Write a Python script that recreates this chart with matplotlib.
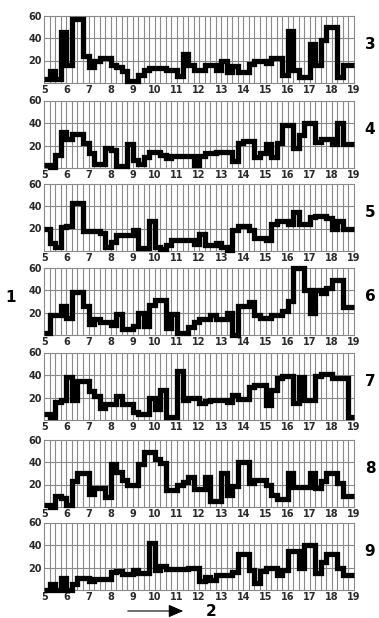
import matplotlib
matplotlib.use("Agg")
import matplotlib.pyplot as plt
import numpy as np

# ---- data (values per 15-minute interval from 5:00 to 19:00) ----
panel_labels = ["3", "4", "5", "6", "7", "8", "9"]
x_start, x_end, step = 5, 19, 0.25
x_ticks = list(range(5, 20))
y_ticks = [20, 40, 60]

p3 = [4, 11, 4, 45, 16, 57, 57, 24, 14, 20, 22, 22, 16, 14, 11, 2, 2, 7, 12, 13,
      13, 13, 12, 12, 6, 26, 16, 12, 12, 16, 16, 12, 20, 10, 15, 10, 10, 17, 20, 20,
      18, 22, 22, 7, 46, 12, 5, 5, 35, 16, 38, 50, 50, 5, 16, 16]
p4 = [3, 1, 12, 32, 26, 30, 30, 22, 13, 4, 4, 18, 16, 2, 2, 21, 7, 4, 10, 14,
      14, 12, 9, 11, 11, 11, 11, 3, 11, 13, 13, 14, 14, 14, 6, 22, 24, 24, 10, 13,
      21, 10, 22, 38, 38, 18, 29, 40, 40, 23, 26, 26, 21, 40, 21, 21]
p5 = [20, 7, 4, 21, 22, 43, 43, 18, 18, 18, 16, 4, 8, 14, 14, 14, 19, 3, 3, 27,
      4, 2, 5, 10, 10, 10, 10, 6, 15, 5, 5, 7, 4, 1, 19, 22, 22, 19, 12, 12,
      10, 24, 27, 27, 24, 35, 24, 24, 30, 31, 31, 29, 20, 27, 20, 20]
p6 = [2, 18, 18, 26, 15, 38, 38, 26, 10, 14, 12, 12, 9, 19, 5, 5, 8, 20, 8, 27,
      31, 31, 6, 19, 2, 2, 7, 12, 14, 14, 18, 14, 14, 20, 0, 26, 26, 29, 18, 15,
      15, 18, 18, 21, 30, 60, 60, 40, 20, 40, 37, 42, 49, 49, 25, 25]
p7 = [5, 3, 16, 18, 38, 18, 35, 35, 26, 21, 11, 14, 14, 21, 14, 14, 7, 5, 5, 20,
      10, 27, 3, 3, 44, 18, 20, 20, 15, 17, 18, 18, 18, 16, 22, 19, 19, 29, 31, 31,
      13, 27, 37, 39, 39, 15, 38, 18, 18, 39, 41, 41, 37, 37, 37, 3]
p8 = [2, 0, 10, 8, 2, 23, 30, 30, 12, 17, 17, 9, 38, 31, 24, 20, 20, 38, 49, 49,
      43, 39, 15, 15, 20, 22, 27, 16, 16, 27, 5, 5, 30, 11, 19, 40, 40, 21, 24, 24,
      20, 11, 7, 7, 30, 18, 18, 18, 30, 17, 23, 30, 30, 21, 10, 10]
p9 = [0, 5, 0, 11, 0, 5, 11, 11, 8, 10, 10, 10, 16, 17, 14, 14, 18, 15, 15, 42,
      18, 21, 19, 19, 19, 19, 20, 20, 8, 12, 9, 13, 13, 13, 16, 32, 32, 18, 6, 17,
      20, 20, 13, 18, 35, 35, 20, 40, 40, 15, 25, 32, 32, 20, 13, 13]
series = [p3, p4, p5, p6, p7, p8, p9]

# ---- figure ----
W, H = 379, 618
fig = plt.figure(figsize=(W / 100, H / 100), dpi=100)
plt.rcParams['font.family'] = ['DejaVu Sans']

left_px, right_px = 44.3, 354.0
bottoms_px = [83, 168, 251, 335, 420, 507, 590]
height_px = 67.5

edges = np.arange(x_start, x_end + step / 2, step)
grid_col = "#8a8a8a"

for vals, lab, bpx in zip(series, panel_labels, bottoms_px):
    ax = fig.add_axes([left_px / W, 1 - bpx / H, (right_px - left_px) / W, height_px / H])
    ax.set_xlim(x_start, x_end)
    ax.set_ylim(0, 60)
    for xv in edges[1:-1]:
        ax.axvline(xv, color=grid_col, lw=0.8, zorder=1)
    for yv in [20, 40]:
        ax.axhline(yv, color=grid_col, lw=0.8, zorder=1)
    sp = ax.stairs(vals, edges, baseline=None, color="black", lw=3.8, zorder=3)
    sp.set_joinstyle("miter")
    sp.set_clip_on(False)
    for s in ax.spines.values():
        s.set_color(grid_col)
        s.set_linewidth(0.8)
    ax.set_xticks(x_ticks)
    ax.set_xticklabels([str(t) for t in x_ticks], fontsize=7, fontweight="bold", color="#2a2a2a")
    ax.set_yticks(y_ticks)
    ax.set_yticklabels([str(t) for t in y_ticks], fontsize=7, fontweight="bold", color="#2a2a2a")
    ax.tick_params(length=0, pad=1.5)
    fig.text(370 / W, 1 - (bpx - height_px * 34 / 60) / H, lab, ha="center", va="center",
             fontsize=11, fontweight="bold")

fig.text(11 / W, 1 - 298 / H, "1", ha="center", va="center", fontsize=11, fontweight="bold")
fig.text(211 / W, 1 - 611 / H, "2", ha="center", va="center", fontsize=11, fontweight="bold")
fig.add_artist(matplotlib.patches.FancyArrowPatch(
    (125 / W, 1 - 611 / H), (186 / W, 1 - 611 / H), transform=fig.transFigure,
    arrowstyle="-|>,head_length=6,head_width=2.6", color="black", lw=0.8,
    mutation_scale=1.5))

fig.savefig("out.png", dpi=100)
